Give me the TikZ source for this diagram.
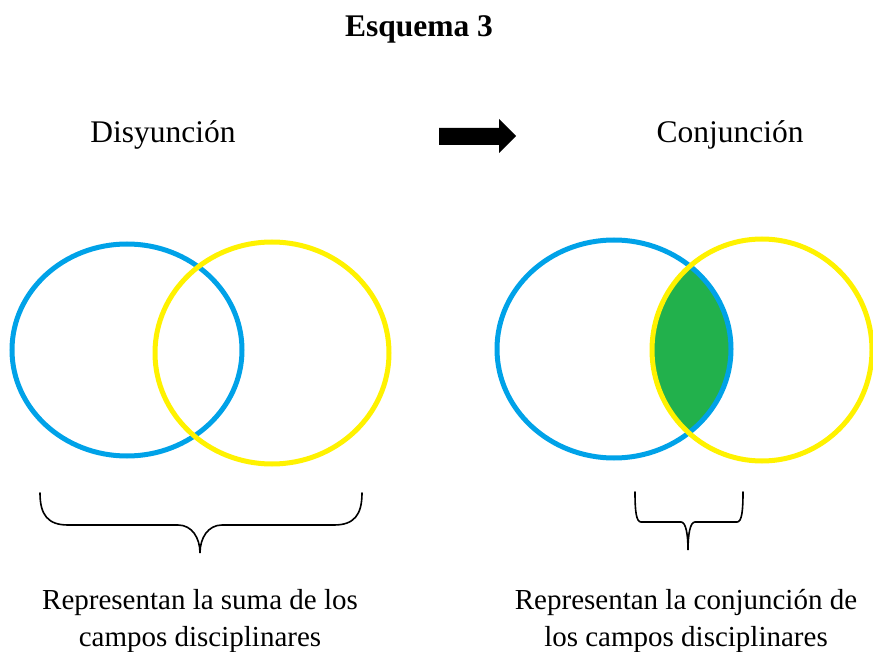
\documentclass[tikz,border=0pt]{standalone}
\usepackage{fontspec}
\setmainfont{Liberation Serif}
\usepackage{tikz}

\definecolor{vennblue}{RGB}{0,162,232}
\definecolor{vennyellow}{RGB}{255,242,0}
\definecolor{venngreen}{RGB}{34,177,76}

\tikzset{
  set/.style={line width=5pt},
  heading/.style={anchor=base, inner sep=0pt, font=\fontsize{31.5}{38}\selectfont},
  caption/.style={anchor=north, inner sep=0pt, align=center, font=\fontsize{29}{37.5}\selectfont},
  bracket/.style={line width=1.6pt, line cap=round},
}

\begin{document}
\begin{tikzpicture}[x=1pt,y=-1pt]
\useasboundingbox (0,0) rectangle (873,652);

\node[heading, font=\fontsize{31.5}{38}\selectfont\bfseries] (title) at (419,37) {Esquema 3};
\node[heading] (disy) at (163,143) {Disyunción};
\node[heading] (conj) at (730,143) {Conjunción};

% arrow between the two headings
\fill (439,128) -- (499,128) -- (499,119) -- (516,136) -- (499,153) -- (499,145) -- (439,145) -- cycle;

% disjunction
\draw[set, vennblue] (127,350) ellipse [x radius=115pt, y radius=106pt];
\draw[set, vennyellow] (272,353) ellipse [x radius=117pt, y radius=111pt];

% conjunction
\begin{scope}
  \clip (614,349) ellipse [x radius=117pt, y radius=109pt];
  \fill[venngreen] (762,350) ellipse [x radius=110pt, y radius=111pt];
\end{scope}
\draw[set, vennblue] (614,349) ellipse [x radius=117pt, y radius=109pt];
\draw[set, vennyellow] (762,350) ellipse [x radius=110pt, y radius=111pt];

% braces
\draw[bracket] (40,493) .. controls (40,515) and (48,525) .. (68,525) -- (178,525)
  .. controls (192,525) and (200,538) .. (200,553)
  .. controls (200,538) and (208,525) .. (222,525) -- (334,525)
  .. controls (354,525) and (362,515) .. (362,493);
\draw[bracket] (635,492) .. controls (635,510) and (636,522) .. (641,522) -- (681,522)
  .. controls (686,522) and (688,535) .. (688,550)
  .. controls (688,535) and (690,522) .. (695,522) -- (737,522)
  .. controls (742,522) and (743,510) .. (743,492);

\node[caption] (capA) at (200,589) {Representan la suma de los\\campos disciplinares};
\node[caption] (capB) at (686,589) {Representan la conjunción de\\los campos disciplinares};
\end{tikzpicture}
\end{document}
